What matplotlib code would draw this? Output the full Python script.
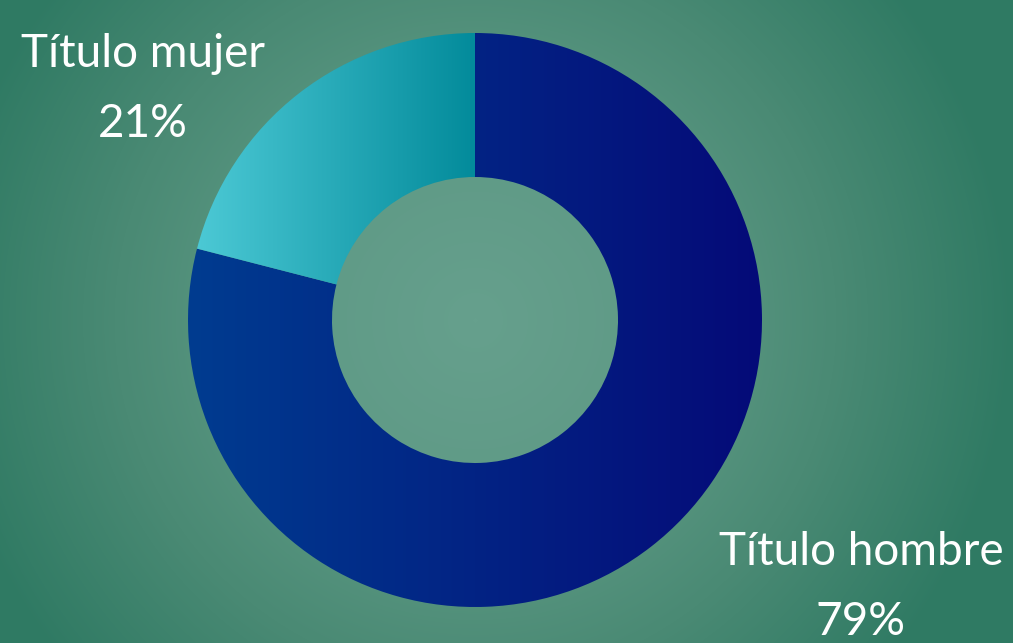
import numpy as np
import matplotlib.pyplot as plt
from matplotlib.colors import LinearSegmentedColormap
from matplotlib import font_manager

labels = ["Título hombre", "Título mujer"]
values = [79, 21]

W, H = 1013, 643
cx, cy = 475, H - 320
r_out, r_in = 287, 143

fams = {f.name for f in font_manager.fontManager.ttflist}
font = "Lato" if "Lato" in fams else "DejaVu Sans"

fig = plt.figure(figsize=(W / 100, H / 100), dpi=100)
ax = fig.add_axes([0, 0, 1, 1])

# radial background
yy, xx = np.mgrid[0:H, 0:W]
d = np.sqrt((xx - cx) ** 2 + (yy - (H - cy)) ** 2) / 540
d = np.clip(d, 0, 1)
bg_cmap = LinearSegmentedColormap.from_list("bg", ["#66a08d", "#5f9a86", "#4a8a74", "#2f7a63"])
ax.imshow(d, cmap=bg_cmap, extent=(0, W, 0, H), origin="upper", zorder=0, vmin=0, vmax=1)

wedges, _ = ax.pie(values, center=(cx, cy), radius=r_out, startangle=90,
                   counterclock=False, wedgeprops=dict(width=r_out - r_in, linewidth=0),
                   frame=True)

grads = [["#003c90", "#050a78"], ["#4cc9d5", "#038b9b"]]
spans = [(cx - r_out, cx + r_out), (cx - r_out + 8, cx)]
for w, g, (x0, x1) in zip(wedges, grads, spans):
    w.set_facecolor("none")
    cm = LinearSegmentedColormap.from_list("g", g)
    grad = np.linspace(0, 1, 256).reshape(1, -1)
    im = ax.imshow(grad, cmap=cm, extent=(x0, x1, cy - r_out, cy + r_out),
                   aspect="auto", zorder=2)
    im.set_clip_path(w)

txt = dict(color="white", fontsize=33, family=font, weight="normal",
           ha="center", va="baseline", zorder=5)
ax.text(143, H - 67, labels[1], **txt)
ax.text(143, H - 137, f"{values[1]}%", **txt)
ax.text(861, H - 565, labels[0], **txt)
ax.text(861, H - 635, f"{values[0]}%", **txt)

ax.set_xlim(0, W)
ax.set_ylim(0, H)
ax.set_aspect("auto")
ax.axis("off")
fig.savefig("out.png", dpi=100)
